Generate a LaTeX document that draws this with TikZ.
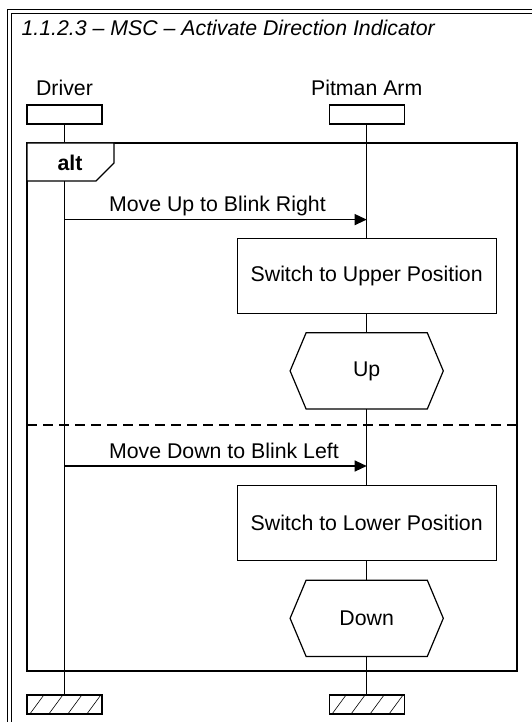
\documentclass[tikz,border=0pt]{standalone}
\usepackage{fontspec}
\setmainfont{Liberation Sans}
\usepackage{tikz}
\usetikzlibrary{arrows.meta, positioning, calc}
\newcommand{\msclabel}{\fontsize{21.3}{25}\selectfont}
\tikzset{
    headbox/.style={rectangle, draw, minimum width=75pt, minimum height=19pt, inner sep=0pt},
    endbox/.style={headbox},
    actionbox/.style={rectangle, draw, minimum width=259pt, minimum height=75pt, inner sep=0pt},
    statebox/.style={rectangle, minimum width=120pt, minimum height=75pt, inner sep=0pt},
    lifeline/.style={line width=1.2pt},
    msgarrow/.style={-{Triangle[length=12pt, width=11pt]}, line width=1.2pt},
    altframe/.style={line width=1.2pt},
    hatch/.style={line width=0.6pt},
}
\newcommand{\hexframe}[1]{%
    \draw[line width=1.2pt] (#1.north west) -- ([xshift=-16pt]#1.west) -- (#1.south west)
        -- (#1.south east) -- ([xshift=16pt]#1.east) -- (#1.north east) -- cycle;}

\begin{document}
\begin{tikzpicture}[x=1pt, y=-1pt, font=\msclabel, line width=1.2pt]
    \useasboundingbox (0,0) rectangle (532,722);
    % outer frame and title
    \draw[double, double distance=3.5pt, line width=0.9pt] (9.7,11.4) rectangle (560,760);
    \node[anchor=base west, inner sep=0pt, font=\msclabel\itshape] (title) at (21,35.5)
        {1.1.2.3 – MSC – Activate Direction Indicator};

    % instances
    \node[headbox] (driver) at (64.5,114.5) {};
    \node[headbox, right=226pt of driver] (pitman) {};
    \node[above=9pt of driver, anchor=base, inner sep=0pt] (driverlabel) {Driver};
    \node[above=9pt of pitman, anchor=base, inner sep=0pt] (pitmanlabel) {Pitman Arm};

    % actions and states on the pitman arm
    \node[actionbox, below=113pt of pitman] (upper) {Switch to Upper Position};
    \node[statebox, below=19pt of upper] (up) {Up};
    \node[actionbox, below=76pt of up] (lower) {Switch to Lower Position};
    \node[statebox, below=19pt of lower] (down) {Down};
    \hexframe{up}
    \hexframe{down}

    % instance ends
    \node[endbox, below=38pt of down] (pitmanend) {};
    \node[endbox] (driverend) at (driver |- pitmanend) {};
    \foreach \e in {driverend, pitmanend}
        \foreach \i in {3,22,41,60}
            \draw[hatch] ([xshift=\i pt]\e.south west) -- ++(14,-19);

    % lifelines
    \draw[lifeline] (driver.south) -- (driverend.north);
    \foreach \a/\b in {pitman/upper, upper/up, up/lower, lower/down, down/pitmanend}
        \draw[lifeline] (\a.south) -- (\b.north);

    % alt frame
    \draw[altframe] (27,143) rectangle (517,671);
    \filldraw[altframe, fill=white] (27,143) -- (114,143) -- (114,163) -- (96,181) -- (27,181) -- cycle;
    \node[font=\msclabel\bfseries, inner sep=0pt] (alt) at (70,163) {alt};
    \draw[altframe, dash pattern=on 10pt off 6pt] (27,425) -- (517,425);

    % messages
    \coordinate (m1) at ([yshift=18pt]upper.north);
    \coordinate (m2) at ([yshift=19pt]lower.north);
    \draw[msgarrow] (driver |- m1) -- (m1)
        node[at start, anchor=base west, xshift=44pt, yshift=8pt, inner sep=0pt] {Move Up to Blink Right};
    \draw[msgarrow] (driver |- m2) -- (m2)
        node[at start, anchor=base west, xshift=44pt, yshift=8pt, inner sep=0pt] {Move Down to Blink Left};
\end{tikzpicture}
\end{document}
